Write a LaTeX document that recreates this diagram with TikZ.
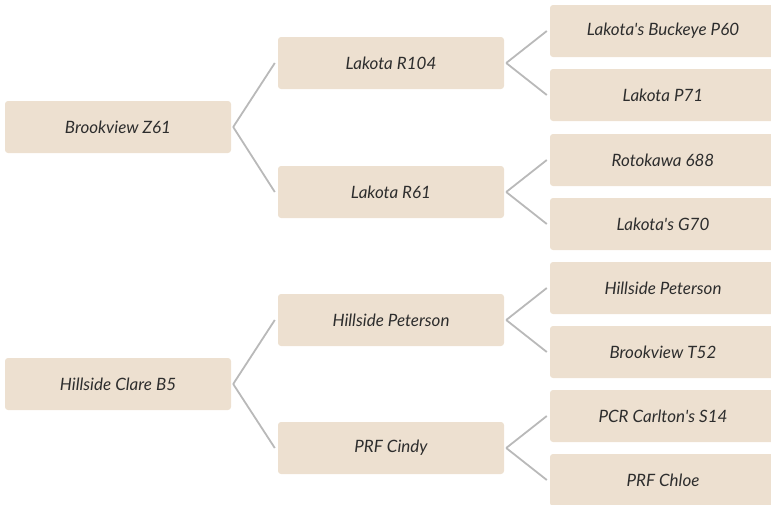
\documentclass[tikz,border=0pt]{standalone}
\usepackage{fontspec}
\setmainfont{Lato}
\usepackage{tikz}

\definecolor{boxfill}{RGB}{237,224,208}
\definecolor{linkgray}{RGB}{185,185,185}
\definecolor{textgray}{RGB}{45,45,45}

\begin{document}
\begin{tikzpicture}[x=1pt,y=-1pt,
    box/.style={rectangle,rounded corners=3pt,fill=boxfill,minimum width=226pt,minimum height=52pt,
        inner sep=0pt,text=textgray,font=\fontsize{17}{20}\selectfont\itshape},
    link/.style={draw=linkgray,line width=1.8pt}]
        \useasboundingbox (0,0) rectangle (771,504);
        \clip (0,0) rectangle (771,504);
        % first generation
        \node[box](a)at(118,127){Brookview Z61};
        \node[box](b)at(118,384){Hillside Clare B5};
        % second generation
        \node[box](a1)at(391,63){Lakota R104};
        \node[box](a2)at(391,192){Lakota R61};
        \node[box](b1)at(391,320){Hillside Peterson};
        \node[box](b2)at(391,448){PRF Cindy};
        % third generation
        \node[box](a11)at(663,31){Lakota\textquotesingle s Buckeye P60};
        \node[box](a12)at(663,95){Lakota P71};
        \node[box](a21)at(663,160){Rotokawa 688};
        \node[box](a22)at(663,224){Lakota\textquotesingle s G70};
        \node[box](b11)at(663,288){Hillside Peterson};
        \node[box](b12)at(663,352){Brookview T52};
        \node[box](b21)at(663,416){PCR Carlton\textquotesingle s S14};
        \node[box](b22)at(663,480){PRF Chloe};
        \draw[link]([xshift=2pt]a.east)--([xshift=-3pt]a1.west);
        \draw[link]([xshift=2pt]a.east)--([xshift=-3pt]a2.west);
        \draw[link]([xshift=2pt]b.east)--([xshift=-3pt]b1.west);
        \draw[link]([xshift=2pt]b.east)--([xshift=-3pt]b2.west);
        \draw[link]([xshift=2pt]a1.east)--([xshift=-3pt]a11.west);
        \draw[link]([xshift=2pt]a1.east)--([xshift=-3pt]a12.west);
        \draw[link]([xshift=2pt]a2.east)--([xshift=-3pt]a21.west);
        \draw[link]([xshift=2pt]a2.east)--([xshift=-3pt]a22.west);
        \draw[link]([xshift=2pt]b1.east)--([xshift=-3pt]b11.west);
        \draw[link]([xshift=2pt]b1.east)--([xshift=-3pt]b12.west);
        \draw[link]([xshift=2pt]b2.east)--([xshift=-3pt]b21.west);
        \draw[link]([xshift=2pt]b2.east)--([xshift=-3pt]b22.west);
    \end{tikzpicture}
\end{document}
